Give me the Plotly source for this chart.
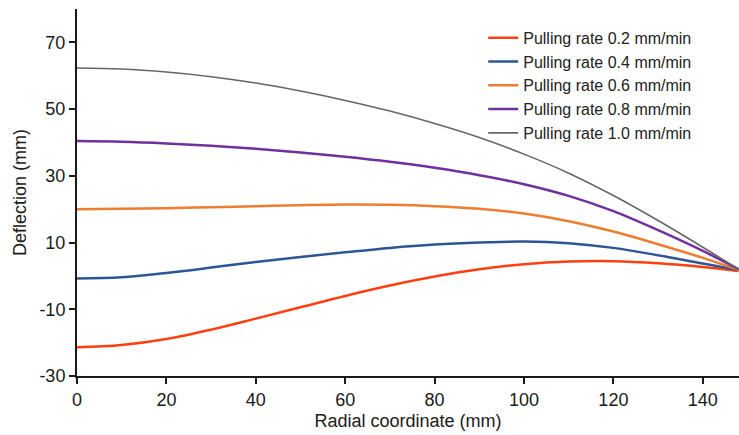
import plotly.graph_objects as go

x_mm = [0, 10, 20, 30, 40, 50, 60, 70, 80, 90, 100, 110, 120, 130, 140, 148]

rate_02 = [-21.4, -20.7, -18.9, -16.1, -12.8, -9.4, -6.0, -2.9, -0.2, 2.0, 3.5, 4.3, 4.4, 3.8, 2.7, 1.5]
rate_04 = [-0.8, -0.4, 0.9, 2.5, 4.2, 5.7, 7.1, 8.4, 9.4, 10.0, 10.3, 9.8, 8.4, 6.2, 3.7, 1.8]
rate_06 = [20.0, 20.1, 20.3, 20.6, 20.9, 21.2, 21.4, 21.3, 20.9, 20.1, 18.7, 16.4, 13.3, 9.5, 5.4, 1.8]
rate_08 = [40.4, 40.2, 39.7, 39.0, 38.1, 37.0, 35.7, 34.2, 32.4, 30.2, 27.5, 24.0, 19.4, 13.7, 7.5, 2.0]
rate_10 = [62.3, 62.0, 61.1, 59.7, 57.8, 55.4, 52.6, 49.4, 45.7, 41.5, 36.5, 30.8, 24.1, 16.6, 8.6, 2.0]

series_names = [
    "Pulling rate 0.2 mm/min",
    "Pulling rate 0.4 mm/min",
    "Pulling rate 0.6 mm/min",
    "Pulling rate 0.8 mm/min",
    "Pulling rate 1.0 mm/min",
]
series_values = [rate_02, rate_04, rate_06, rate_08, rate_10]
colors = ["#FF3F10", "#2F5597", "#ED7D31", "#7030A0", "#666666"]
widths = [2.5, 2.5, 2.5, 2.5, 1.6]

y_ticks = [-30, -10, 10, 30, 50, 70]
y_tick_labels = ["-30", "-10", "10", "30", "50", "70"]
x_ticks = [0, 20, 40, 60, 80, 100, 120, 140]

fig = go.Figure()
for name, vals, c, w in zip(series_names, series_values, colors, widths):
    fig.add_trace(go.Scatter(
        x=x_mm, y=vals, mode="lines", name=name, legendgroup=name,
        line=dict(color=c, width=w, shape="spline", smoothing=1.0),
    ))

axis_color = "#1a1a1a"
font_family = "Liberation Sans, Arial, sans-serif"

fig.update_layout(
    width=739, height=435,
    margin=dict(l=77, r=0, t=9, b=59),
    paper_bgcolor="white", plot_bgcolor="white",
    font=dict(family=font_family, size=18, color=axis_color),
    showlegend=True,
    legend=dict(
        x=0.6136, y=0.968, xanchor="left", yanchor="top",
        font=dict(size=16, color="#222222"),
        bgcolor="rgba(0,0,0,0)",
        tracegroupgap=0,
    ),
    xaxis=dict(
        range=[0, 148.1], tickvals=x_ticks,
        showline=True, linecolor=axis_color, linewidth=2,
        ticks="outside", ticklen=6, tickwidth=2, tickcolor=axis_color,
        showgrid=False, zeroline=False,
        title=dict(text="Radial coordinate (mm)", font=dict(size=18), standoff=6),
    ),
    yaxis=dict(
        range=[-30, 80], tickvals=y_ticks, ticktext=y_tick_labels,
        showline=True, linecolor=axis_color, linewidth=2,
        ticks="outside", ticklen=6, tickwidth=2, tickcolor=axis_color,
        showgrid=False, zeroline=False,
        title=dict(text="Deflection (mm)", font=dict(size=18), standoff=8),
    ),
)

fig.write_html("out.html")
